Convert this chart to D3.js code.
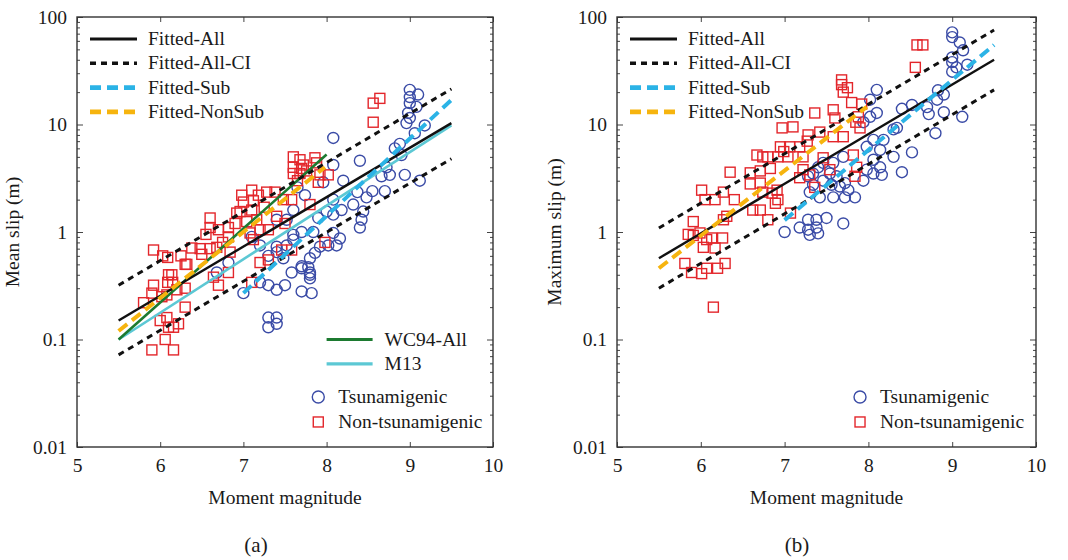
<!doctype html>
<html>
<head>
<meta charset="utf-8">
<style>
  body { margin: 0; background: #fff; }
  svg text { font-family: "Liberation Serif", "Times New Roman", serif; }
  .tick text { fill: #1a1a1a; }
  .axis path { display: none; }
  .axis line { stroke: #444; stroke-width: 1; }
</style>
</head>
<body>
<svg id="chart" width="1068" height="560"></svg>
<script src="https://cdn.jsdelivr.net/npm/d3@7"></script>
<script>
// ---- data: [moment magnitude, slip (m)] ----
const xTicks = [5, 6, 7, 8, 9, 10];
const yTicks = [0.01, 0.1, 1, 10, 100];
const yTickLabels = ["0.01", "0.1", "1", "10", "100"];

// panel (a) mean slip
const meanNonTsu = [
  [5.92,0.68],[6.03,0.6],[6.09,0.58],[6.3,0.5],[6.38,0.71],[6.6,1.35],[6.6,1.1],[6.7,1.05],
  [6.82,1.1],[6.82,0.9],[6.48,0.7],[6.6,0.7],[6.68,0.72],[6.92,1.5],[6.98,2.2],[7.1,2.45],
  [7.18,2.2],[7.0,1.9],[7.12,1.95],[7.28,2.35],[7.38,2.35],[6.96,1.55],[7.1,1.6],[7.04,1.25],
  [7.16,1.3],[7.08,0.98],[7.2,1.05],[7.12,0.85],[7.3,1.05],[7.48,2.0],[7.58,2.0],[7.6,5.0],
  [7.68,4.7],[7.6,4.0],[7.7,3.9],[7.6,3.5],[7.68,3.5],[7.76,3.7],[7.86,4.9],[7.88,4.4],
  [7.9,2.9],[7.92,3.4],[8.02,3.4],[7.8,1.8],[7.46,0.68],[8.56,15.8],[8.64,17.5],[8.56,10.5],
  [6.84,0.65],[5.92,0.32],[5.9,0.27],[5.8,0.22],[6.1,0.4],[6.14,0.4],[6.09,0.34],[6.15,0.34],
  [6.32,0.5],[6.3,0.3],[6.2,0.29],[6.08,0.26],[6.02,0.25],[6.08,0.16],[6.0,0.15],[6.1,0.13],
  [6.16,0.13],[6.22,0.14],[6.3,0.2],[6.06,0.1],[5.9,0.08],[6.16,0.08],[6.7,0.32],[6.64,0.38],
  [6.82,0.42],[7.1,0.34],[7.2,0.52],[7.58,0.68],[7.3,0.55],[7.98,0.8],[6.5,0.62],[6.75,0.8],
  [6.9,1.2],[7.25,1.7],[7.4,1.4],[6.55,0.95],[7.65,3.0],[7.72,4.2],[7.5,1.2],[6.25,0.6]
];
const meanTsu = [
  [8.08,7.5],[8.4,4.6],[8.08,4.2],[7.74,2.2],[7.96,2.9],[8.2,3.0],[8.37,2.35],[8.48,2.1],
  [8.44,1.55],[8.32,1.8],[8.08,2.0],[8.0,1.55],[8.08,1.45],[8.18,1.6],[8.42,1.3],[8.4,1.1],
  [8.08,0.98],[8.16,0.87],[8.02,0.75],[8.12,0.75],[7.92,0.73],[7.86,0.64],[7.8,0.57],[7.78,0.47],
  [7.7,0.48],[7.8,0.4],[7.7,1.0],[7.6,0.94],[7.6,0.85],[7.52,1.3],[7.4,1.3],[7.52,0.75],
  [7.4,0.73],[7.4,0.65],[7.48,0.57],[8.72,4.0],[8.76,3.4],[8.66,3.3],[8.7,2.4],[8.9,5.2],
  [8.88,6.6],[8.82,6.0],[8.94,3.4],[9.06,8.3],[9.18,9.8],[9.0,21],[9.0,18],[9.1,19],
  [9.0,15.8],[9.08,14.6],[8.98,12.8],[9.0,11.5],[8.96,10.3],[9.12,3.0],[7.84,1.0],[7.9,1.35],
  [6.68,0.42],[6.82,0.52],[7.0,0.27],[7.2,0.34],[7.3,0.32],[7.4,0.29],[7.5,0.32],[7.58,0.42],
  [7.7,0.46],[7.8,0.42],[7.8,0.37],[7.7,0.28],[7.82,0.27],[7.3,0.16],[7.4,0.16],[7.3,0.13],
  [7.4,0.14],[7.3,0.6],[7.2,0.75],[7.6,1.6],[7.1,0.9],[7.65,2.6],[8.55,2.4]
];
const meanFitAll = [[5.5,0.15],[9.5,10.3]];
const meanFitCIUp = [[5.5,0.32],[9.5,21.4]];
const meanFitCILo = [[5.5,0.072],[9.5,4.8]];
const meanFitSub = [[7.0,0.27],[9.5,16.9]];
const meanFitNonSub = [[5.5,0.12],[7.98,4.0]];
const meanWC94 = [[5.5,0.1],[8.0,5.25]];
const meanM13 = [[5.5,0.1],[9.5,9.8]];

// panel (b) maximum slip
const maxNonTsu = [
  [8.58,55],[8.65,55],[8.56,34],[7.68,26],[7.68,23.5],[7.75,22],[7.7,20],[7.36,12.8],
  [7.58,13.7],[7.6,11.5],[7.8,16],[7.92,15.5],[7.88,11.8],[7.85,10.5],[7.9,9.3],[6.97,9.3],
  [7.1,9.5],[7.28,8],[7.27,7],[7.42,8.5],[7.58,7.7],[7.7,7.7],[6.95,6.2],[6.99,5.6],
  [7.06,6.2],[7.18,6.2],[7.22,5.0],[7.04,5.0],[6.67,5.2],[6.74,5.0],[6.8,5.0],[6.92,5.0],
  [6.59,3.55],[6.71,3.7],[6.83,3.9],[6.59,2.8],[6.71,2.85],[6.74,2.35],[6.91,2.45],[6.92,2.0],
  [6.85,2.3],[6.89,1.85],[6.62,1.6],[6.71,1.6],[6.35,3.6],[6.01,2.45],[6.05,2.0],[6.27,2.35],
  [6.17,2.0],[6.31,1.4],[6.4,2.0],[6.27,1.3],[5.91,1.25],[6.8,1.3],[7.07,1.5],[5.85,0.95],
  [5.91,0.93],[5.99,0.98],[6.07,0.85],[6.13,0.88],[6.26,0.88],[6.17,0.71],[6.03,0.72],[7.22,3.8],
  [7.3,3.4],[7.18,3.2],[7.36,2.6],[7.54,3.8],[7.46,4.9],[7.82,5.2],[7.84,3.3],[7.86,4.0],
  [5.81,0.51],[5.89,0.42],[6.01,0.41],[6.07,0.46],[6.2,0.46],[6.29,0.51],[6.15,0.2]
];
const maxTsu = [
  [9.0,72],[9.0,65],[9.09,58],[9.13,49],[9.0,42],[9.0,38],[9.05,34],[9.0,31],[9.18,36],
  [9.12,11.8],[8.9,19],[8.83,20.8],[8.82,17],[8.7,14.5],[8.72,12.5],[8.8,8.3],[8.9,13],
  [8.52,15.2],[8.4,14],[8.34,9.3],[8.3,9.0],[8.52,5.5],[8.4,3.6],[8.3,5.0],[8.1,21],
  [8.02,17],[8.1,12.8],[8.02,11.8],[7.94,10.5],[8.06,7.2],[8.18,7.2],[8.14,5.8],[7.98,6.2],
  [8.06,4.7],[8.14,4.0],[7.98,3.8],[8.06,3.5],[8.16,3.4],[7.94,3.0],[7.7,5.0],[7.58,4.4],
  [7.46,4.4],[7.4,4.0],[7.34,3.5],[7.54,3.5],[7.62,3.3],[7.46,3.0],[7.56,2.75],[7.34,2.75],
  [7.66,2.65],[7.72,2.85],[7.76,2.45],[7.58,2.1],[7.72,2.1],[7.84,2.1],[7.42,2.1],[7.3,2.35],
  [7.28,3.3],[7.0,1.0],[7.18,1.1],[7.28,1.3],[7.38,1.3],[7.28,1.05],[7.38,1.1],[7.3,0.94],
  [7.4,0.97],[7.5,1.35],[7.7,1.2]
];
const maxFitAll = [[5.5,0.57],[9.5,40]];
const maxFitCIUp = [[5.5,1.09],[9.5,75.7]];
const maxFitCILo = [[5.5,0.30],[9.5,21]];
const maxFitSub = [[7.0,1.29],[9.5,55]];
const maxFitNonSub = [[5.5,0.46],[7.98,14.6]];

// ---- styles ----
const BLUE = "#3a4ba6", RED = "#e3262b";
const FONT = '"Liberation Serif", "Times New Roman", serif';
const sty = {
  all:    { stroke: "#111", width: 2.4, dash: null },
  ci:     { stroke: "#111", width: 3, dash: "6,5" },
  sub:    { stroke: "#2bb3e6", width: 4, dash: "11,6" },
  nonsub: { stroke: "#f6b40e", width: 4, dash: "11,6" },
  wc94:   { stroke: "#1c7a30", width: 2.6, dash: null },
  m13:    { stroke: "#5cc8d4", width: 2.6, dash: null }
};

const svg = d3.select("#chart");

function txt(g, x, y, s, size, anchor) {
  return g.append("text").attr("x", x).attr("y", y).attr("font-size", size)
    .attr("font-family", FONT).attr("fill", "#1a1a1a").attr("text-anchor", anchor || "start").text(s);
}

function panel(opt) {
  const { x0, x1, y0, y1 } = opt.box;
  const x = d3.scaleLinear().domain([5, 10]).range([x0, x1]);
  const y = d3.scaleLog().domain([0.01, 100]).range([y1, y0]);
  const g = svg.append("g");

  // minor log ticks 2..9 per decade
  const minor = [];
  for (let d = 0.01; d < 100; d *= 10) for (let k = 2; k <= 9; k++) minor.push(+(d * k).toPrecision(3));

  const axes = [
    [d3.axisBottom(x).tickValues(xTicks).tickSize(-5).tickPadding(11).tickFormat(d3.format("d")), `translate(0,${y1})`],
    [d3.axisTop(x).tickValues(xTicks).tickSize(-5).tickFormat(""), `translate(0,${y0})`],
    [d3.axisLeft(y).tickValues(yTicks).tickSize(-6).tickPadding(10).tickFormat((d, i) => yTickLabels[i]), `translate(${x0},0)`],
    [d3.axisLeft(y).tickValues(minor).tickSize(-3).tickFormat(""), `translate(${x0},0)`],
    [d3.axisRight(y).tickValues(yTicks).tickSize(-6).tickFormat(""), `translate(${x1},0)`],
    [d3.axisRight(y).tickValues(minor).tickSize(-3).tickFormat(""), `translate(${x1},0)`]
  ];
  axes.forEach(([ax, tr]) => {
    g.append("g").attr("class", "axis").attr("transform", tr).call(ax)
      .attr("font-family", FONT).attr("font-size", 19.5);
  });

  // markers
  g.append("g").selectAll("circle").data(opt.tsu).join("circle")
    .attr("cx", d => x(d[0])).attr("cy", d => y(d[1])).attr("r", 5.5)
    .attr("fill", "none").attr("stroke", BLUE).attr("stroke-width", 1.4);
  g.append("g").selectAll("rect").data(opt.nonTsu).join("rect")
    .attr("x", d => x(d[0]) - 5).attr("y", d => y(d[1]) - 5).attr("width", 10).attr("height", 10)
    .attr("fill", "none").attr("stroke", RED).attr("stroke-width", 1.4);

  // fitted lines
  const line = d3.line().x(d => x(d[0])).y(d => y(d[1]));
  opt.lines.forEach(([pts, s]) => {
    g.append("path").datum(pts).attr("d", line)
      .attr("fill", "none").attr("stroke", s.stroke).attr("stroke-width", s.width)
      .attr("stroke-dasharray", s.dash);
  });

  // frame
  g.append("rect").attr("x", x0).attr("y", y0).attr("width", x1 - x0).attr("height", y1 - y0)
    .attr("fill", "none").attr("stroke", "#333").attr("stroke-width", 1.4);

  // legend (lines)
  const lx = x0 + 13;
  opt.legend.forEach(([label, s], i) => {
    const ly = y0 + 22 + i * 24.3;
    g.append("line").attr("x1", lx).attr("x2", lx + 47).attr("y1", ly).attr("y2", ly)
      .attr("stroke", s.stroke).attr("stroke-width", s.width + 0.6).attr("stroke-dasharray", s.dash);
    txt(g, lx + 58, ly + 6, label, 19.5);
  });
  (opt.legend2 || []).forEach(([label, s], i) => {
    const ly = y(0.1) + i * 24.3;
    const lx2 = x(8.0);
    g.append("line").attr("x1", lx2).attr("x2", lx2 + 46).attr("y1", ly).attr("y2", ly)
      .attr("stroke", s.stroke).attr("stroke-width", 3.2);
    txt(g, lx2 + 58, ly + 6, label, 19.5);
  });
  const mx = x(opt.markerLegendM), my = y(0.0292);
  g.append("circle").attr("cx", mx).attr("cy", my).attr("r", 6)
    .attr("fill", "none").attr("stroke", BLUE).attr("stroke-width", 1.4);
  txt(g, mx + 20, my + 6, "Tsunamigenic", 19.5);
  g.append("rect").attr("x", mx - 5).attr("y", my + 20).attr("width", 10).attr("height", 10)
    .attr("fill", "none").attr("stroke", RED).attr("stroke-width", 1.4);
  txt(g, mx + 20, my + 31, "Non-tsunamigenic", 19.5);

  // axis titles
  txt(g, (x0 + x1) / 2, y1 + 57, "Moment magnitude", 19.5, "middle");
  txt(g, 0, 0, opt.yTitle, 19.5, "middle")
    .attr("transform", `translate(${opt.yTitleX},${(y0 + y1) / 2}) rotate(-90)`);
  txt(g, opt.capX, 552, opt.caption, 21, "middle");
}

const legendMain = [["Fitted-All", sty.all], ["Fitted-All-CI", sty.ci], ["Fitted-Sub", sty.sub], ["Fitted-NonSub", sty.nonsub]];

panel({
  box: { x0: 77, x1: 493, y0: 17, y1: 447 },
  tsu: meanTsu, nonTsu: meanNonTsu,
  lines: [[meanM13, sty.m13], [meanWC94, sty.wc94], [meanFitCIUp, sty.ci], [meanFitCILo, sty.ci],
          [meanFitAll, sty.all], [meanFitSub, sty.sub], [meanFitNonSub, sty.nonsub]],
  legend: legendMain,
  legend2: [["WC94-All", sty.wc94], ["M13", sty.m13]],
  markerLegendM: 7.9,
  yTitle: "Mean slip (m)", yTitleX: 19, capX: 256, caption: "(a)"
});

panel({
  box: { x0: 617, x1: 1036, y0: 17, y1: 447 },
  tsu: maxTsu, nonTsu: maxNonTsu,
  lines: [[maxFitCIUp, sty.ci], [maxFitCILo, sty.ci], [maxFitAll, sty.all],
          [maxFitSub, sty.sub], [maxFitNonSub, sty.nonsub]],
  legend: legendMain,
  markerLegendM: 7.9,
  yTitle: "Maximum slip (m)", yTitleX: 561, capX: 797, caption: "(b)"
});
</script>
</body>
</html>
